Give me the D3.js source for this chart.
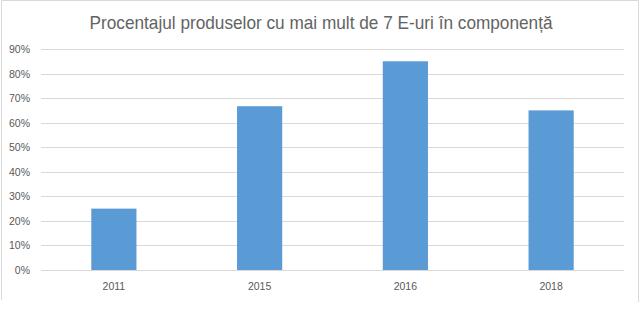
<!DOCTYPE html>
<html>
<head>
<meta charset="utf-8">
<style>
  body { margin: 0; background: white; }
  svg { display: block; font-family: "Liberation Sans", Arial, sans-serif; }
</style>
</head>
<body>
<script src="https://d3js.org/d3.v7.min.js"></script>
<script>
  // data
  var years = ["2011", "2015", "2016", "2018"];
  var percents = [25, 66.7, 85, 65];
  var yTicks = [0, 10, 20, 30, 40, 50, 60, 70, 80, 90];
  var title = "Procentajul produselor cu mai mult de 7 E-uri în componență";

  var width = 640, height = 311;

  var svg = d3.select("body")
    .append("svg")
    .attr("width", width)
    .attr("height", height);

  // chart area border (bottom edge is cut off in the original)
  svg.append("path")
    .attr("d", "M1.5,300V0.5H638.5V302")
    .attr("fill", "none")
    .attr("stroke", "#d9d9d9");

  let x = d3.scaleBand()
    .domain(years)
    .range([41, 624])
    .paddingInner(0.69)
    .paddingOuter(0.345);

  let y = d3.scaleLinear()
    .domain([0, 90])
    .range([270, 49]);

  // gridlines
  svg.selectAll(".grid")
    .data(yTicks)
    .enter()
    .append("line")
    .attr("x1", 41)
    .attr("x2", 624)
    .attr("y1", d => Math.round(y(d)) + 0.5)
    .attr("y2", d => Math.round(y(d)) + 0.5)
    .attr("stroke", "#d9d9d9")
    .attr("stroke-width", 1);

  // y labels
  svg.selectAll(".ylab")
    .data(yTicks)
    .enter()
    .append("text")
    .attr("x", 30)
    .attr("y", d => y(d) + 4)
    .attr("text-anchor", "end")
    .attr("font-size", 10.5)
    .attr("fill", "#595959")
    .text(d => d + "%");

  // bars
  svg.selectAll(".bar")
    .data(percents)
    .enter()
    .append("rect")
    .attr("x", (d, i) => x(years[i]))
    .attr("y", d => y(d))
    .attr("width", x.bandwidth())
    .attr("height", d => y(0) - y(d))
    .attr("fill", "#5b9bd5");

  // x labels
  svg.selectAll(".xlab")
    .data(years)
    .enter()
    .append("text")
    .attr("x", d => x(d) + x.bandwidth() / 2)
    .attr("y", 290)
    .attr("text-anchor", "middle")
    .attr("font-size", 10.5)
    .attr("fill", "#595959")
    .text(d => d);

  // title
  svg.append("text")
    .attr("x", 321)
    .attr("y", 29)
    .attr("text-anchor", "middle")
    .attr("font-size", 18.5)
    .attr("fill", "#636363")
    .attr("textLength", 463)
    .attr("lengthAdjust", "spacingAndGlyphs")
    .text(title);
</script>
</body>
</html>
